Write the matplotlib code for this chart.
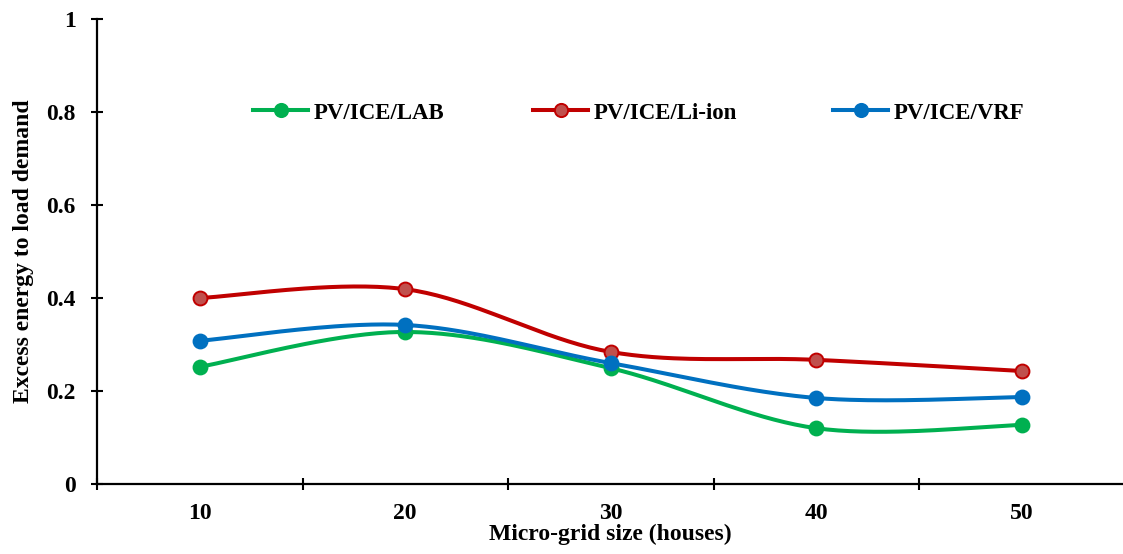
import numpy as np
import matplotlib
matplotlib.use("Agg")
import matplotlib.pyplot as plt
from matplotlib.lines import Line2D

plt.rcParams['font.family'] = ['Liberation Serif', 'DejaVu Serif']
plt.rcParams['font.weight'] = 'bold'

sizes = ["10", "20", "30", "40", "50"]
lab = [0.252, 0.327, 0.249, 0.120, 0.127]
li_ion = [0.400, 0.419, 0.284, 0.267, 0.243]
vrf = [0.308, 0.342, 0.260, 0.185, 0.187]

series = [
    ("PV/ICE/LAB", lab, "#00B050", "#00B050", "#00B050"),
    ("PV/ICE/Li-ion", li_ion, "#C00000", "#C0504D", "#C00000"),
    ("PV/ICE/VRF", vrf, "#0070C0", "#0070C0", "#0070C0"),
]


def smooth(xs, ys, n=40):
    """Spreadsheet-style smoothed line: cubic Bezier through each point."""
    pts = np.column_stack([xs, ys]).astype(float)
    ext = np.vstack([pts[0], pts, pts[-1]])
    out = []
    t = np.linspace(0, 1, n)[:, None]
    for i in range(len(pts) - 1):
        p0, p1 = ext[i + 1], ext[i + 2]
        c1 = p0 + (ext[i + 2] - ext[i]) / 6.0
        c2 = p1 - (ext[i + 3] - ext[i + 1]) / 6.0
        seg = ((1 - t) ** 3) * p0 + 3 * ((1 - t) ** 2) * t * c1 + 3 * (1 - t) * t ** 2 * c2 + t ** 3 * p1
        out.append(seg if i == 0 else seg[1:])
    seg = np.vstack(out)
    return seg[:, 0], seg[:, 1]


W, H = 1123, 554
fig = plt.figure(figsize=(W / 100, H / 100), dpi=100)
ax = fig.add_axes([97 / W, 70 / H, 1027.5 / W, 465 / H])

x = np.arange(len(sizes))
handles = []
for name, vals, lc, fc, ec in series:
    sx, sy = smooth(x, vals)
    ax.plot(sx, sy, color=lc, lw=2.9, solid_capstyle='round', zorder=2)
    ax.plot(x, vals, ls='none', marker='o', ms=10, mfc=fc, mec=ec, mew=1.4, zorder=3)
    handles.append(Line2D([], [], color=lc, lw=2.9, marker='o', ms=9.5, mfc=fc, mec=ec, mew=1.4))

ax.set_xlim(-0.5, 4.5)
ax.set_ylim(0, 1)
ax.set_xticks(np.arange(-0.5, 4.6, 1.0))
ax.set_xticklabels([])
ax.set_xticks(x, minor=True)
ax.set_xticklabels(sizes, minor=True)
ax.tick_params(axis='x', which='major', direction='inout', length=8.6, width=1.5)
ax.tick_params(axis='x', which='minor', length=0, pad=13.5, labelsize=17)
ax.set_yticks([0, 0.2, 0.4, 0.6, 0.8, 1.0])
ax.set_yticklabels(["0", "0.2", "0.4", "0.6", "0.8", "1"])
ax.tick_params(axis='y', direction='inout', length=8.6, width=1.5, labelsize=17, pad=11)

for s in ['top', 'right']:
    ax.spines[s].set_visible(False)
for s in ['left', 'bottom']:
    ax.spines[s].set_linewidth(1.6)
ax.spines['bottom'].set_zorder(4)

ax.set_xlabel("Micro-grid size (houses)", fontsize=17, fontweight='bold', labelpad=0)
ax.set_ylabel("Excess energy to load demand", fontsize=17, fontweight='bold', labelpad=9)

# one legend entry per series, placed side by side above the curves
starts_px = [253, 533, 833]
legend_y = (484 - 113) / 465
for i, (h, s) in enumerate(zip(handles, series)):
    leg = ax.legend([h], [s[0]], loc='center left',
                    bbox_to_anchor=((starts_px[i] - 97) / 1027.5, legend_y),
                    frameon=False, borderpad=0, borderaxespad=0,
                    handlelength=2.4, handletextpad=0.25,
                    prop={'weight': 'bold', 'size': 16.5})
    if i < len(series) - 1:
        ax.add_artist(leg)

fig.savefig("out.png", dpi=100)
